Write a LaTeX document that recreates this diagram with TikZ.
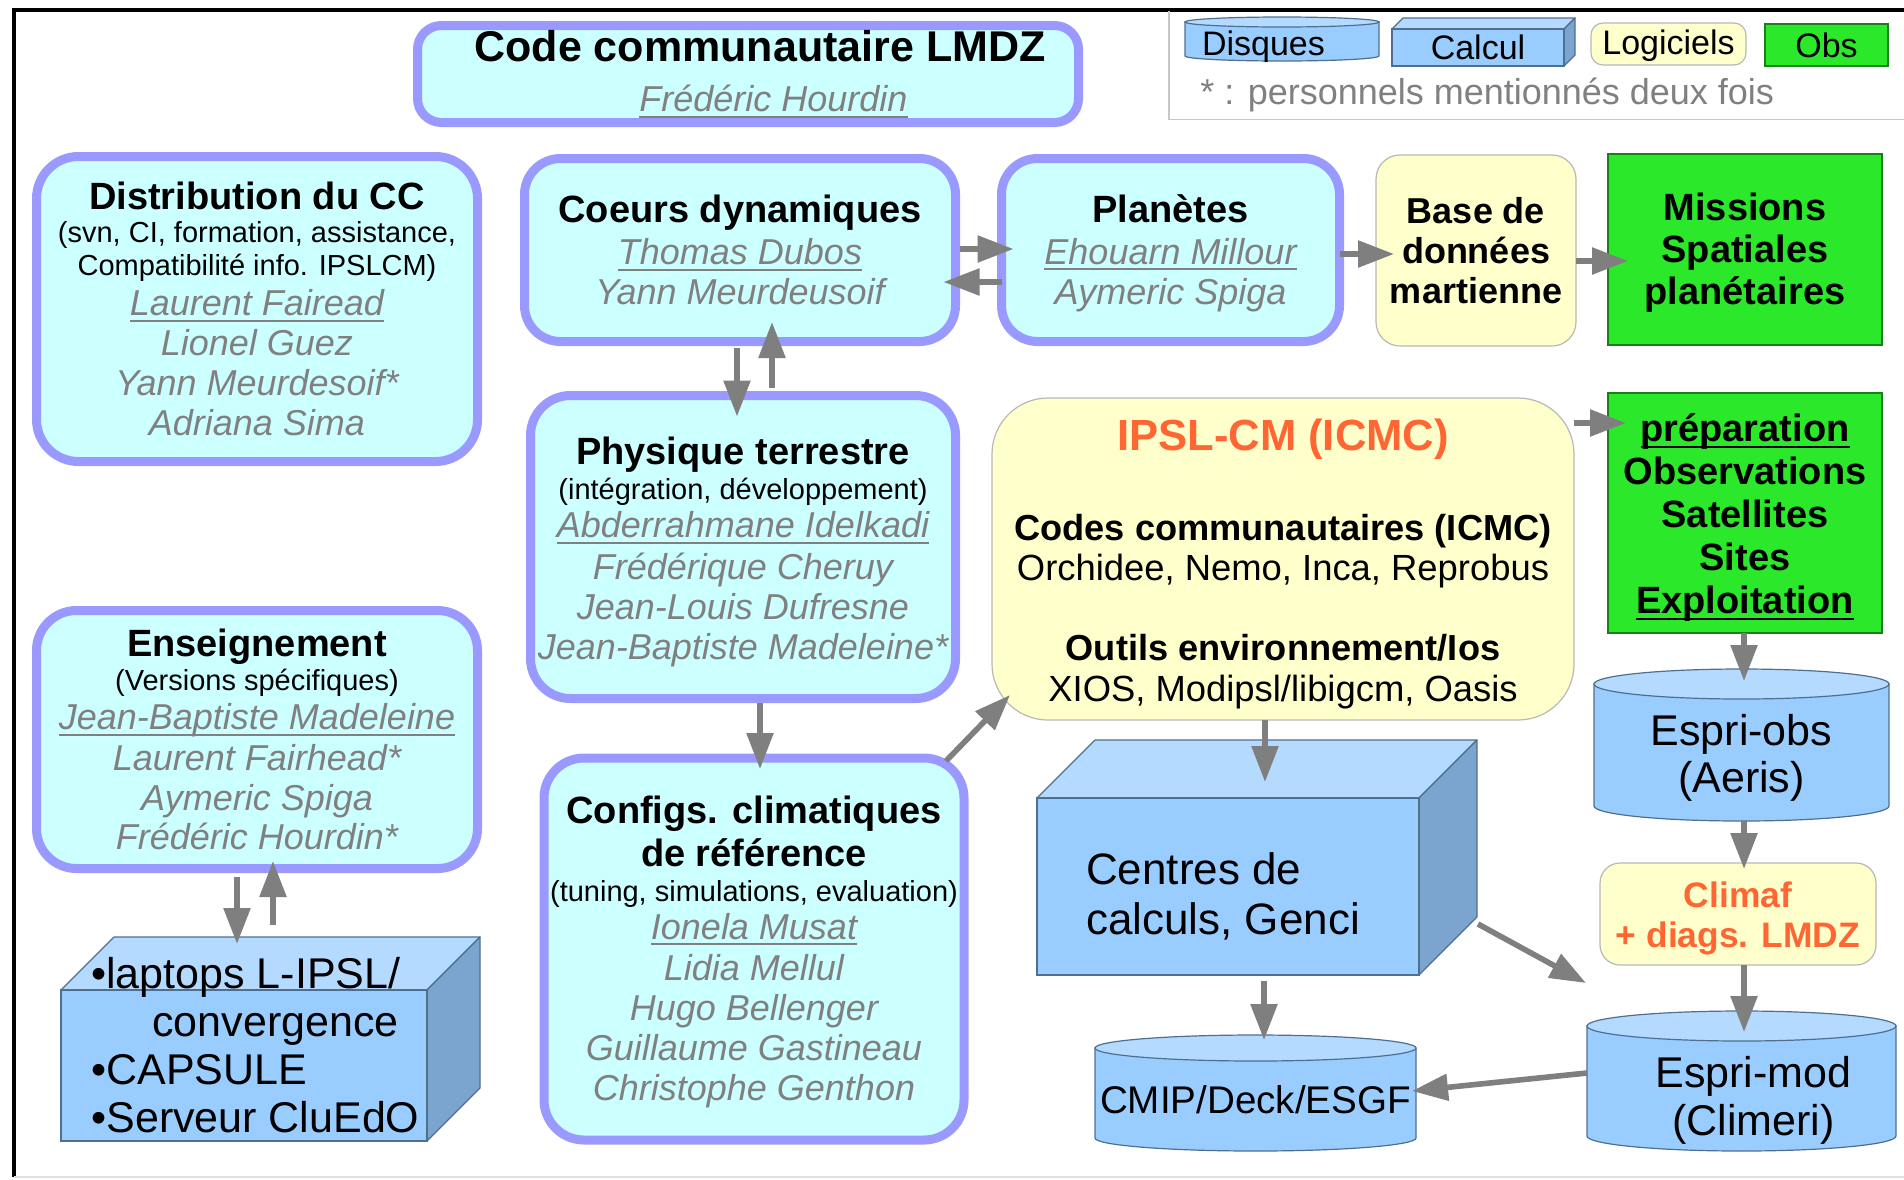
\documentclass[tikz,border=0pt]{standalone}
\usepackage{fontspec}
\setmainfont{Liberation Sans}
\usepackage{tikz}
\usetikzlibrary{calc,arrows.meta,backgrounds}
\definecolor{lavender}{HTML}{9999FF}
\definecolor{boxcyan}{HTML}{CCFFFF}
\definecolor{cream}{HTML}{FFFFCC}
\definecolor{obsgreen}{HTML}{2BE82B}
\definecolor{calcblue}{HTML}{99CCFF}
\definecolor{calctop}{HTML}{B4DAFF}
\definecolor{calcside}{HTML}{7BA5CE}
\definecolor{calcedge}{HTML}{4F6F8F}
\definecolor{ipslorange}{HTML}{FF6633}
\definecolor{namegray}{HTML}{808080}
\definecolor{arrowgray}{HTML}{7F7F7F}
\newcommand\bxtitle[1]{{\fontsize{19pt}{20pt}\selectfont\bfseries #1}}
\newcommand\bxnote[1]{{\fontsize{14.5pt}{16pt}\selectfont #1}}
\newcommand\bxname[1]{{\color{namegray}\itshape #1}}
\newcommand\ulbox[1]{\setbox0\hbox{#1}\rlap{\rule[-3pt]{\wd0}{1pt}}\box0}
\newcommand\bxlead[1]{\bxname{\ulbox{#1}}}
\newcommand\topgap[1]{\rule{0pt}{#1}}
% top and side faces of a box drawn behind its front node
\newcommand\cubefaces[2]{%
  \begin{pgfonlayer}{background}
    \path[cubetop] (#1.north west) -- ++(#2,-#2) -- ($(#1.north east)+(#2,-#2)$) -- (#1.north east) -- cycle;
    \path[cubeside] (#1.north east) -- ++(#2,-#2) -- ($(#1.south east)+(#2,-#2)$) -- (#1.south east) -- cycle;
  \end{pgfonlayer}}
% disk: body and top ellipse behind the node
\newcommand\diskfaces[3]{%
  \begin{pgfonlayer}{background}
    \path[diskside] (#1.north west) -- ([yshift=#3]#1.south west)
      arc[start angle=180, end angle=360, x radius=#2, y radius=#3]
      -- (#1.north east) -- cycle;
    \path[disktop] (#1.north) ellipse [x radius=#2, y radius=#3];
  \end{pgfonlayer}}
\tikzset{
  lmdzbox/.style={draw=lavender, line width=4.5pt, fill=boxcyan, rounded corners=20pt,
    inner sep=0pt, outer sep=0pt, align=center, font=\fontsize{18pt}{20pt}\selectfont},
  softbox/.style={draw=black!28, line width=0.6pt, fill=cream, rounded corners=12pt,
    inner sep=0pt, outer sep=0pt, align=center, font=\fontsize{18pt}{20pt}\selectfont},
  obsbox/.style={draw=obsgreen!55!black, line width=0.6pt, fill=obsgreen, inner sep=0pt,
    outer sep=0pt, align=center, font=\fontsize{19pt}{21.5pt}\selectfont\bfseries},
  calcbox/.style={draw=calcedge, line width=0.6pt, fill=calcblue, inner sep=0pt, outer sep=0pt},
  diskbox/.style={inner sep=0pt, outer sep=0pt, align=center},
  cubetop/.style={draw=calcedge, line width=0.6pt, fill=calctop, line join=round},
  cubeside/.style={draw=calcedge, line width=0.6pt, fill=calcside, line join=round},
  disktop/.style={draw=calcedge, line width=0.6pt, fill=calctop},
  diskside/.style={draw=calcedge, line width=0.6pt, fill=calcblue},
  flow/.style={draw=arrowgray, line width=2.8pt, -{Triangle[length=18pt,width=13pt]}},
  legtext/.style={font=\fontsize{17pt}{19pt}\selectfont}
}
\begin{document}
\begin{tikzpicture}[x=0.5pt, y=-0.5pt]
  \useasboundingbox (0,0) rectangle (1904,1179);
  \draw[black, line width=2pt] (13.5,1177) -- (13.5,10) -- (1904,10);
  \draw[black!12, line width=1pt] (13.5,1177) -- (1904,1177);

  % legend
  \draw[black!22, line width=0.8pt] (1169,11) -- (1169,119.5) -- (1904,119.5);
  \node[diskbox, minimum width=97pt, minimum height=19.5pt, text width=80pt, inner xsep=8.5pt,
    align=left, legtext] (legdisk) at (1282,41.5) {\raisebox{-2.5pt}[\height][\depth]{Disques}};
  \diskfaces{legdisk}{48.5pt}{2.5pt}
  \node[calcbox, minimum width=86pt, minimum height=18.5pt, legtext] (legcalc) at (1478,47.5) {Calcul};
  \cubefaces{legcalc}{11}
  \node[softbox, rounded corners=6pt, minimum width=77.5pt, minimum height=21pt, legtext] (legsoft) at (1668.5,44)
    {\raisebox{-1pt}[\height][\depth]{Logiciels}};
  \node[obsbox, minimum width=61.5pt, minimum height=21pt, legtext] (legobs) at (1826.5,45) {Obs};
  \node[anchor=west, inner sep=0pt, text=namegray, font=\fontsize{18pt}{20pt}\selectfont] (legnote) at (1200,95)
    {* : personnels mentionnés deux fois};

  \node[lmdzbox, rounded corners=12pt, minimum width=330.5pt, minimum height=48.5pt,
    font=\fontsize{18pt}{24pt}\selectfont] (lmdz) at (748,74)
    {\hspace*{12pt}{\fontsize{21.5pt}{24pt}\selectfont\bfseries Code communautaire LMDZ}\\[1.2pt]
     \hspace*{25.5pt}\bxlead{Frédéric Hourdin}};

  \node[lmdzbox, rounded corners=21pt, minimum width=220.5pt, minimum height=152.5pt] (distrib) at (257,309)
    {\bxtitle{Distribution du CC}\\[-3.4pt]
     \bxnote{(svn, CI, formation, assistance,}\\[-3.6pt]
     \bxnote{Compatibilité info. IPSLCM)}\\
     \bxlead{Laurent Fairead}\\
     \bxname{Lionel Guez}\\
     \bxname{Yann Meurdesoif*}\\
     \bxname{Adriana Sima}};

  \node[lmdzbox, rounded corners=18pt, minimum width=215.5pt, minimum height=91.5pt] (coeurs) at (740,250)
    {\bxtitle{Coeurs dynamiques}\\[1pt] \bxlead{Thomas Dubos}\\ \bxname{Yann Meurdeusoif}};
  \node[lmdzbox, rounded corners=18pt, minimum width=169pt, minimum height=91.5pt] (planetes) at (1170.5,250)
    {\topgap{17pt}\bxtitle{Planètes}\\[1pt] \bxlead{Ehouarn Millour}\\ \bxname{Aymeric Spiga}};
  \node[softbox, minimum width=100pt, minimum height=95.5pt, font=\fontsize{18pt}{20pt}\selectfont\bfseries] (base)
    at (1476,250.5) {Base de\\données\\martienne};
  \node[obsbox, minimum width=137pt, minimum height=95.5pt, font=\fontsize{19pt}{21pt}\selectfont\bfseries] (missions)
    at (1745,249.5) {\topgap{16.8pt}Missions\\Spatiales\\planétaires};

  \node[lmdzbox, minimum width=212.5pt, minimum height=151.5pt] (physique) at (743,547)
    {\topgap{18.6pt}\bxtitle{Physique terrestre}\\[-2.8pt]
     \bxnote{(intégration, développement)}\\[-0.6pt]
     \bxlead{Abderrahmane Idelkadi}\\[0.6pt]
     \bxname{Frédérique Cheruy}\\
     \bxname{Jean-Louis Dufresne}\\
     \bxname{Jean-Baptiste Madeleine*}};

  \node[softbox, rounded corners=28pt, minimum width=291pt, minimum height=161pt,
    font=\fontsize{18.2pt}{20pt}\selectfont] (ipsl) at (1283,559)
    {\topgap{21pt}{\fontsize{21.8pt}{22pt}\selectfont\bfseries\color{ipslorange}IPSL-CM (ICMC)}\\[25pt]
     {\fontsize{18.1pt}{20pt}\selectfont\bfseries Codes communautaires (ICMC)}\\
     Orchidee, Nemo, Inca, Reprobus\\[20pt]
     {\fontsize{18.1pt}{20pt}\selectfont\bfseries Outils environnement/Ios}\\[0.7pt]
     XIOS, Modipsl/libigcm, Oasis};

  \node[obsbox, minimum width=137pt, minimum height=120pt] (prep) at (1745,513)
    {\topgap{18.6pt}\ulbox{préparation}\\Observations\\Satellites\\Sites\\\ulbox{Exploitation}};

  \node[lmdzbox, minimum width=220.5pt, minimum height=129pt] (enseign) at (257,739.5)
    {\bxtitle{Enseignement}\\[-2.8pt]
     \bxnote{(Versions spécifiques)}\\[-0.6pt]
     \bxlead{Jean-Baptiste Madeleine}\\[0.6pt]
     \bxname{Laurent Fairhead*}\\
     \bxname{Aymeric Spiga}\\[-0.6pt]
     \bxname{Frédéric Hourdin*}};

  \node[lmdzbox, minimum width=210pt, minimum height=191pt] (configs) at (754,949)
    {\topgap{16.8pt}\bxtitle{Configs. climatiques}\\[1.3pt]
     \bxtitle{de référence}\\[-2.2pt]
     \bxnote{(tuning, simulations, evaluation)}\\[-1.2pt]
     \bxlead{Ionela Musat}\\[0.6pt]
     \bxname{Lidia Mellul}\\
     \bxname{Hugo Bellenger}\\
     \bxname{Guillaume Gastineau}\\
     \bxname{Christophe Genthon}};

  \node[calcbox, minimum width=183pt, minimum height=75.5pt] (laptops) at (244,1065.5) {};
  \cubefaces{laptops}{53}
  \node[anchor=west, inner sep=0pt, align=left, font=\fontsize{21.5pt}{24pt}\selectfont] (laptopstxt) at (91,1045)
    {•laptops L-IPSL/\\\hspace*{30.5pt}convergence\\•CAPSULE\\•Serveur CluEdO};

  \node[calcbox, minimum width=191pt, minimum height=88.5pt, align=left, font=\fontsize{22pt}{25pt}\selectfont] (centres)
    at (1228,886.5) {\topgap{26pt}Centres de\\calculs, Genci\hspace*{5pt}};
  \cubefaces{centres}{58}

  \node[diskbox, minimum width=147.5pt, minimum height=68.5pt, font=\fontsize{21.5pt}{23.5pt}\selectfont] (espriobs)
    at (1741.5,752.5) {\topgap{21.4pt}Espri-obs\\(Aeris)};
  \diskfaces{espriobs}{73.75pt}{7.5pt}
  \node[softbox, rounded corners=10pt, minimum width=138pt, minimum height=51pt,
    font=\fontsize{17.7pt}{20pt}\selectfont\bfseries, text=ipslorange] (climaf) at (1738,914) {\topgap{17pt}Climaf\\+ diags. LMDZ};
  \node[diskbox, minimum width=154.5pt, minimum height=62.5pt, font=\fontsize{21.5pt}{24pt}\selectfont] (esprimod)
    at (1741.5,1088.5) {\hspace*{12pt}\topgap{27.4pt}Espri-mod\\\hspace*{12pt}(Climeri)};
  \diskfaces{esprimod}{77.25pt}{7.5pt}
  \node[diskbox, minimum width=160.5pt, minimum height=51.5pt, font=\fontsize{19.3pt}{20pt}\selectfont] (cmip)
    at (1255.5,1099.5) {CMIP/Deck/ESGF};
  \diskfaces{cmip}{80.25pt}{6.5pt}

  % connectors
  \draw[flow, shorten <=2pt, shorten >=-6pt] ([yshift=0.5pt]coeurs.east) -- ([yshift=0.5pt]planetes.west);
  \draw[flow, shorten >=-6pt] ([yshift=-16pt]planetes.west) -- ([yshift=-16pt]coeurs.east);
  \draw[flow, shorten <=3pt, shorten >=-10.5pt] ([xshift=-1.5pt]coeurs.south) -- ([xshift=-1.5pt]coeurs.south |- physique.north);
  \draw[flow, shorten <=3.75pt, shorten >=-9.75pt] ([xshift=14.5pt]physique.north) -- ([xshift=14.5pt]physique.north |- coeurs.south);
  \draw[flow, shorten >=-9pt] ([yshift=-2pt]planetes.east) -- ([yshift=-2pt]planetes.east -| base.west);
  \draw[flow, shorten >=-10pt] ([yshift=-5.25pt]base.east) -- ([yshift=-5.25pt]base.east -| missions.west);
  \draw[flow, shorten >=-9pt] ([yshift=68pt]ipsl.east) -- ([yshift=68pt]ipsl.east -| prep.west);
  \draw[flow, shorten <=2pt, shorten >=-5.5pt] ([xshift=8.5pt]physique.south) -- ([xshift=8.5pt]physique.south |- configs.north);
  \draw[flow] ([shift={(-9pt,-1.5pt)}]configs.north east) -- ([shift={(9pt,12.5pt)}]ipsl.south west);
  \draw[flow, shorten <=4.25pt, shorten >=23pt] ([xshift=-10pt]enseign.south) -- ([xshift=-10pt]enseign.south |- laptops.north);
  \draw[flow, shorten <=32.5pt, shorten >=-3.75pt] ([xshift=14.5pt]laptops.north) -- ([xshift=14.5pt]laptops.north |- enseign.south);
  \draw[flow, shorten >=8pt] ([xshift=-9pt]ipsl.south) -- ([xshift=-9pt]ipsl.south |- centres.north);
  \draw[flow, shorten <=3pt, shorten >=4pt] ([xshift=18pt]centres.south) -- ([xshift=18pt]centres.south |- cmip.north);
  \draw[flow] ([shift={(29.5pt,-18.75pt)}]centres.east) -- ([shift={(-0.5pt,21.5pt)}]esprimod.north west);
  \draw[flow, shorten >=1.5pt] ([xshift=-0.5pt]prep.south) -- ([xshift=-0.5pt]prep.south |- espriobs.north);
  \draw[flow, shorten >=-3pt] ([xshift=1.25pt]espriobs.south) -- ([xshift=1.25pt]espriobs.south |- climaf.north);
  \draw[flow, shorten >=-3pt] ([xshift=3pt]climaf.south) -- ([xshift=3pt]climaf.south |- esprimod.north);
  \draw[flow] ([yshift=7.75pt]esprimod.west) -- ([shift={(-2pt,4.25pt)}]cmip.east);
\end{tikzpicture}
\end{document}
